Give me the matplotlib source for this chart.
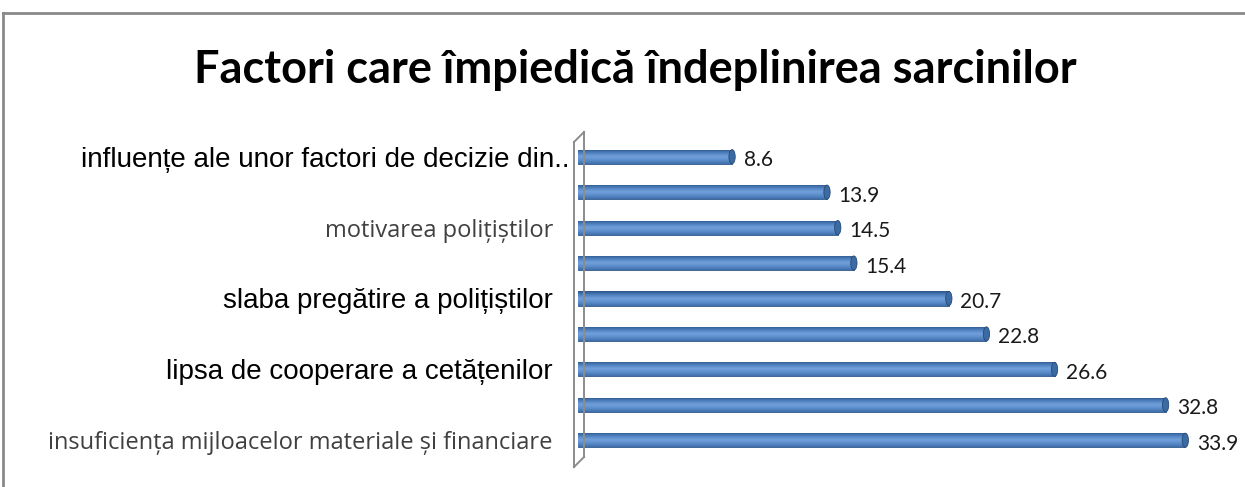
import numpy as np
import matplotlib
matplotlib.use("Agg")
import matplotlib.pyplot as plt
from matplotlib.colors import LinearSegmentedColormap
from matplotlib.lines import Line2D
from matplotlib.patches import Ellipse
from matplotlib.transforms import ScaledTranslation

# date (de sus in jos, asa cum apar in grafic)
categories = [
    "influențe ale unor factori de decizie din..",
    "",
    "motivarea polițiștilor",
    "",
    "slaba pregătire a polițiștilor",
    "",
    "lipsa de cooperare a cetățenilor",
    "",
    "insuficiența mijloacelor materiale și financiare",
]
values = [8.6, 13.9, 14.5, 15.4, 20.7, 22.8, 26.6, 32.8, 33.9]
label_fonts = ["arial", "", "calibri", "", "arial", "", "arial", "", "calibri"]

title = "Factori care împiedică îndeplinirea sarcinilor"

W, H = 1245, 487
fig = plt.figure(figsize=(W / 100, H / 100), dpi=100)

# axa: x de la 578 la 1205 px, y de la 139 la 458 px
ax = fig.add_axes([578 / W, 1 - 458 / H, (1205 - 578) / W, (458 - 139) / H])
ax.set_xlim(0, 35)
ypos = np.arange(len(values))
ax.set_ylim(len(values) - 0.5, -0.5)

bar_h = 0.4
bars = ax.barh(ypos, values, height=bar_h, color="#4f81bd",
               edgecolor="#31598a", linewidth=0.6, zorder=2)

# efect de cilindru (gradient vertical)
cyl = LinearSegmentedColormap.from_list(
    "cyl", ["#2c5587", "#4d80c0", "#73a0da", "#5b8dcc", "#3f6fab"])
grad = np.linspace(0, 1, 64).reshape(-1, 1)
for b in bars:
    x0, y0 = b.get_x(), b.get_y()
    w, h = b.get_width(), b.get_height()
    im = ax.imshow(grad, cmap=cyl, aspect="auto", zorder=2.5,
                   extent=[x0, x0 + w, y0 + h, y0], interpolation="bilinear")
    im.set_clip_path(b)
    ax.add_patch(Ellipse((x0 + w, y0 + h / 2), 0.35, h, facecolor="#3c6aa3",
                         edgecolor="#284a75", linewidth=0.6, zorder=3))

# etichete valori
for v, y in zip(values, ypos):
    ax.text(v + 0.65, y + 0.1, f"{v:.1f}", va="center", ha="left",
            fontsize=15, family="Lato", color="#1a1a1a")

ax.set_yticks(ypos)
ax.set_yticklabels(categories)
ax.tick_params(axis="y", length=0, pad=18)
for lab, f in zip(ax.get_yticklabels(), label_fonts):
    if f == "arial":
        lab.set_fontfamily("Liberation Sans")
        lab.set_fontsize(20)
        lab.set_color("black")
    else:
        lab.set_fontfamily("Open Sans")
        lab.set_fontsize(17)
        lab.set_color("#404040")
lab0 = ax.get_yticklabels()[0]
lab0.set_transform(lab0.get_transform() + ScaledTranslation(12 / 72, 0, fig.dpi_scale_trans))

ax.set_xticks([])
for s in ax.spines.values():
    s.set_visible(False)
ax.patch.set_alpha(0)

# perete 3D al axei
def px(x, y):
    return x / W, 1 - y / H

wall_col = "#8c8c8c"
for (xa, ya), (xb, yb) in [((574, 142), (574, 467)), ((584, 132), (584, 457)),
                           ((574, 142), (584, 132)), ((574, 467), (584, 457))]:
    p, q = px(xa, ya), px(xb, yb)
    fig.add_artist(Line2D([p[0], q[0]], [p[1], q[1]], color=wall_col, lw=1.4))

# chenar exterior
for (xa, ya), (xb, yb) in [((3, 13), (1245, 13)), ((3, 13), (3, 487))]:
    p, q = px(xa, ya), px(xb, yb)
    fig.add_artist(Line2D([p[0], q[0]], [p[1], q[1]], color="#8a8a8a", lw=2))

fig.text(635 / W, 1 - 70 / H, title, ha="center", va="center",
         fontsize=32.5, fontweight="bold", family="Lato", color="black")

fig.savefig("out.png", dpi=100)
